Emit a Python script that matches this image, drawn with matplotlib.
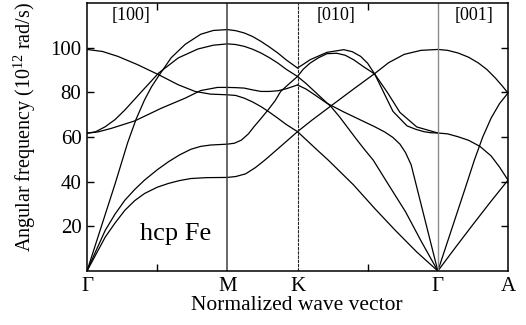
#!/usr/bin/env python

"""
phonon dispersion of hcp Fe along Gamma-M-K-Gamma-A
"""

import matplotlib
matplotlib.use('Agg')
import matplotlib.pyplot as plt

OUTFILE = 'out.png'

# high symmetry points (normalized wave vector)
SYM_POS = [0.0, 1.0, 1.5, 2.5, 3.0]
SYM_LABELS = ['\u0393', 'M', 'K', '\u0393', 'A']
DIRECTIONS = ['[100]', '[010]', '[001]']
DIRECTION_POS = [0.317, 1.777, 2.759]

# ---- Gamma -> M ----
GM_Q_A = [0, 0.11, 0.22, 0.36, 0.51, 0.65, 0.77, 0.88, 1.0]
GM_W_A = [99.2, 98.3, 96.1, 92.4, 87.9, 83.4, 80.4, 79.2, 78.9]
GM_Q_B = [0, 0.06, 0.13, 0.2, 0.27, 0.39, 0.51, 0.65, 0.79, 0.9, 1.0]
GM_W_B = [61.7, 62.3, 64.6, 67.8, 72.1, 80.4, 88.6, 95.4, 99.4, 101.1, 101.7]
GM_Q_C = [0, 0.08, 0.175, 0.34, 0.53, 0.7, 0.81, 0.93, 1.0]
GM_W_C = [61.7, 62.3, 63.9, 67.2, 72.9, 77.4, 80.8, 82.2, 82.2]
GM_Q_LA = [0, 0.1, 0.2, 0.29, 0.35, 0.41, 0.46, 0.51, 0.6, 0.7, 0.81, 0.9, 1.0]
GM_W_LA = [0, 19.5, 39, 57.5, 68, 76.6, 82.5, 87.3, 95.5, 101.5, 106, 107.7, 108.1]
GM_Q_TA2 = [0, 0.06, 0.13, 0.2, 0.27, 0.34, 0.41, 0.5, 0.58, 0.66, 0.74, 0.81, 0.88, 1.0]
GM_W_TA2 = [0, 8.5, 18.2, 25.5, 31.7, 36.5, 40.7, 45.3, 48.9, 52, 54.5, 55.8, 56.4, 56.8]
GM_Q_TA1 = [0, 0.06, 0.13, 0.2, 0.27, 0.34, 0.41, 0.5, 0.58, 0.66, 0.74, 0.85, 1.0]
GM_W_TA1 = [0, 7, 15.2, 21.5, 27.2, 31.5, 34.7, 37.5, 39.2, 40.5, 41.4, 41.8, 41.9]

# ---- M -> K ----
MK_Q = [1.0, 1.06, 1.12, 1.18, 1.24, 1.3, 1.36, 1.42, 1.5]
MK_W_1 = [108.1, 107.6, 106.6, 105, 102.8, 100.3, 97.6, 94.5, 90.9]
MK_W_2 = [101.7, 101.4, 100.6, 99.3, 97.6, 95.5, 93.1, 90.3, 87.1]
MK_W_3 = [82.2, 82.1, 81.9, 81.1, 80.4, 80.4, 80.7, 81.6, 83.3]
MK_W_4 = [78.9, 78.6, 77.4, 75.7, 73.6, 71.1, 68.4, 65.6, 62.4]
MK_Q_5 = [1.0, 1.05, 1.1, 1.15, 1.19, 1.24, 1.29, 1.34, 1.38, 1.44, 1.5]
MK_W_5 = [56.8, 57.2, 58.6, 61.4, 64.6, 68.3, 72.1, 76.2, 80.4, 83.8, 87.1]
MK_Q_6 = [1.0, 1.06, 1.13, 1.2, 1.27, 1.38, 1.5]
MK_W_6 = [41.9, 42.3, 43.5, 46.3, 49.8, 55.8, 62.4]

# ---- K -> Gamma ----
KG_Q_T1 = [1.5, 1.54, 1.59, 1.71, 1.83, 1.89, 1.95, 2.0, 2.05, 2.11, 2.18, 2.28, 2.34, 2.4, 2.45, 2.5]
KG_W_T1 = [90.9, 92.5, 94.6, 97.9, 99.1, 98.2, 96.1, 93, 88.2, 80.5, 71.5, 65, 63.5, 62.4, 61.9, 61.8]
KG_Q_T2 = [1.5, 1.54, 1.59, 1.65, 1.71, 1.78, 1.84, 1.9, 1.97, 2.05, 2.14, 2.23, 2.35, 2.5]
KG_W_T2 = [87.1, 90.3, 93.1, 95.5, 97.3, 97.5, 96.6, 94.6, 91.5, 88.2, 80, 71, 64.5, 61.8]
KG_Q_D1 = [1.5, 1.56, 1.62, 1.68, 1.74, 1.8, 1.86, 1.92, 1.98, 2.04, 2.15, 2.27, 2.38, 2.5]
KG_W_D1 = [87.1, 84, 80.5, 77, 73.5, 69, 64, 59, 54.2, 49.6, 38.5, 26.5, 13.5, 0]
KG_Q_D2 = [1.5, 1.56, 1.62, 1.71, 1.83, 1.95, 2.05, 2.12, 2.18, 2.23, 2.27, 2.31, 2.36, 2.43, 2.5]
KG_W_D2 = [83.3, 81.5, 79, 75.1, 71.2, 67.6, 64.6, 62.3, 59.8, 56.8, 53, 47.5, 35, 17.5, 0]
KG_Q_D3 = [1.5, 1.64, 1.72, 1.9, 2.05, 2.2, 2.35, 2.5]
KG_W_D3 = [62.4, 54.2, 49.6, 38.5, 28, 18, 8.5, 0]
KG_Q_R = [1.5, 1.6, 1.74, 1.9, 2.05, 2.15, 2.26, 2.38, 2.5]
KG_W_R = [62.4, 67.4, 74, 81.5, 88.4, 93.3, 97.0, 98.8, 99.2]

# ---- Gamma -> A ----
GA_Q_1 = [2.5, 2.57, 2.645, 2.72, 2.79, 2.85, 2.91, 2.96, 3.0]
GA_W_1 = [99.2, 98.8, 97.6, 95.7, 93.1, 90.2, 86.4, 82.8, 79.7]
GA_Q_2 = [2.5, 2.57, 2.645, 2.72, 2.8, 2.88, 2.94, 3.0]
GA_W_2 = [61.8, 61.4, 60.1, 58.5, 55.8, 51.5, 46.5, 40.7]
GA_Q_3 = [2.5, 2.6, 2.7, 2.76, 2.82, 2.88, 2.94, 3.0]
GA_W_3 = [0, 19, 38, 49.6, 60, 68.5, 75, 79.7]
GA_Q_4 = [2.5, 2.625, 2.75, 2.875, 3.0]
GA_W_4 = [0, 10.5, 20.8, 30.9, 40.7]

BRANCHES = [
    (GM_Q_A, GM_W_A), (GM_Q_B, GM_W_B), (GM_Q_C, GM_W_C),
    (GM_Q_LA, GM_W_LA), (GM_Q_TA2, GM_W_TA2), (GM_Q_TA1, GM_W_TA1),
    (MK_Q, MK_W_1), (MK_Q, MK_W_2), (MK_Q, MK_W_3), (MK_Q, MK_W_4),
    (MK_Q_5, MK_W_5), (MK_Q_6, MK_W_6),
    (KG_Q_T1, KG_W_T1), (KG_Q_T2, KG_W_T2), (KG_Q_D1, KG_W_D1),
    (KG_Q_D2, KG_W_D2), (KG_Q_D3, KG_W_D3), (KG_Q_R, KG_W_R),
    (GA_Q_1, GA_W_1), (GA_Q_2, GA_W_2), (GA_Q_3, GA_W_3), (GA_Q_4, GA_W_4),
]

YTICKS = [20, 40, 60, 80, 100]


def main():
    """
    draw the dispersion curves and save to OUTFILE
    """
    plt.rcParams['font.family'] = ['Liberation Serif', 'DejaVu Serif']
    plt.rcParams['mathtext.fontset'] = 'custom'
    plt.rcParams['mathtext.rm'] = 'Liberation Serif'

    fig = plt.figure(figsize=(5.26, 3.25), dpi=100)
    ax = fig.add_axes([87 / 526, 54 / 325, 421 / 526, 268 / 325])

    for q, w in BRANCHES:
        ax.plot(q, w, color='black', lw=0.9, solid_capstyle='round')

    # symmetry point separators
    ax.axvline(SYM_POS[1], color='0.25', lw=1.1)
    ax.axvline(SYM_POS[2], color='0.15', lw=0.8, ls=(0, (3, 0.8)))
    ax.axvline(SYM_POS[3], color='0.55', lw=1.0)

    ax.set_xlim(0, 3)
    ax.set_ylim(0, 120)

    ax.set_xticks(SYM_POS)
    ax.set_xticklabels(SYM_LABELS, fontsize=15)
    ax.set_xticks([0.5, 2.0], minor=True)
    ax.tick_params(axis='x', which='major', length=0, pad=4)
    ax.tick_params(axis='x', which='minor', direction='in', length=5,
                   width=1, top=True, bottom=True)

    ax.set_yticks(YTICKS)
    ax.tick_params(axis='y', which='major', direction='in', length=5,
                   width=1, left=True, right=True, labelsize=15, pad=4)

    for s in ax.spines.values():
        s.set_linewidth(1.1)

    for lab, x in zip(DIRECTIONS, DIRECTION_POS):
        ax.text(x, 114.5, lab, fontsize=13, ha='center', va='center')
    ax.text(0.63, 13.7, 'hcp Fe', fontsize=19, ha='center', va='baseline')

    fig.text(297 / 526, 20 / 325, 'Normalized wave vector', fontsize=15.5,
             ha='center', va='center')
    fig.text(25 / 526, 198.5 / 325, r'Angular frequency (10$^{\mathrm{12}}$ rad/s)',
             fontsize=14.5, ha='center', va='center', rotation=90)

    fig.savefig(OUTFILE, dpi=100, facecolor='w')


if __name__ == "__main__":
    main()
